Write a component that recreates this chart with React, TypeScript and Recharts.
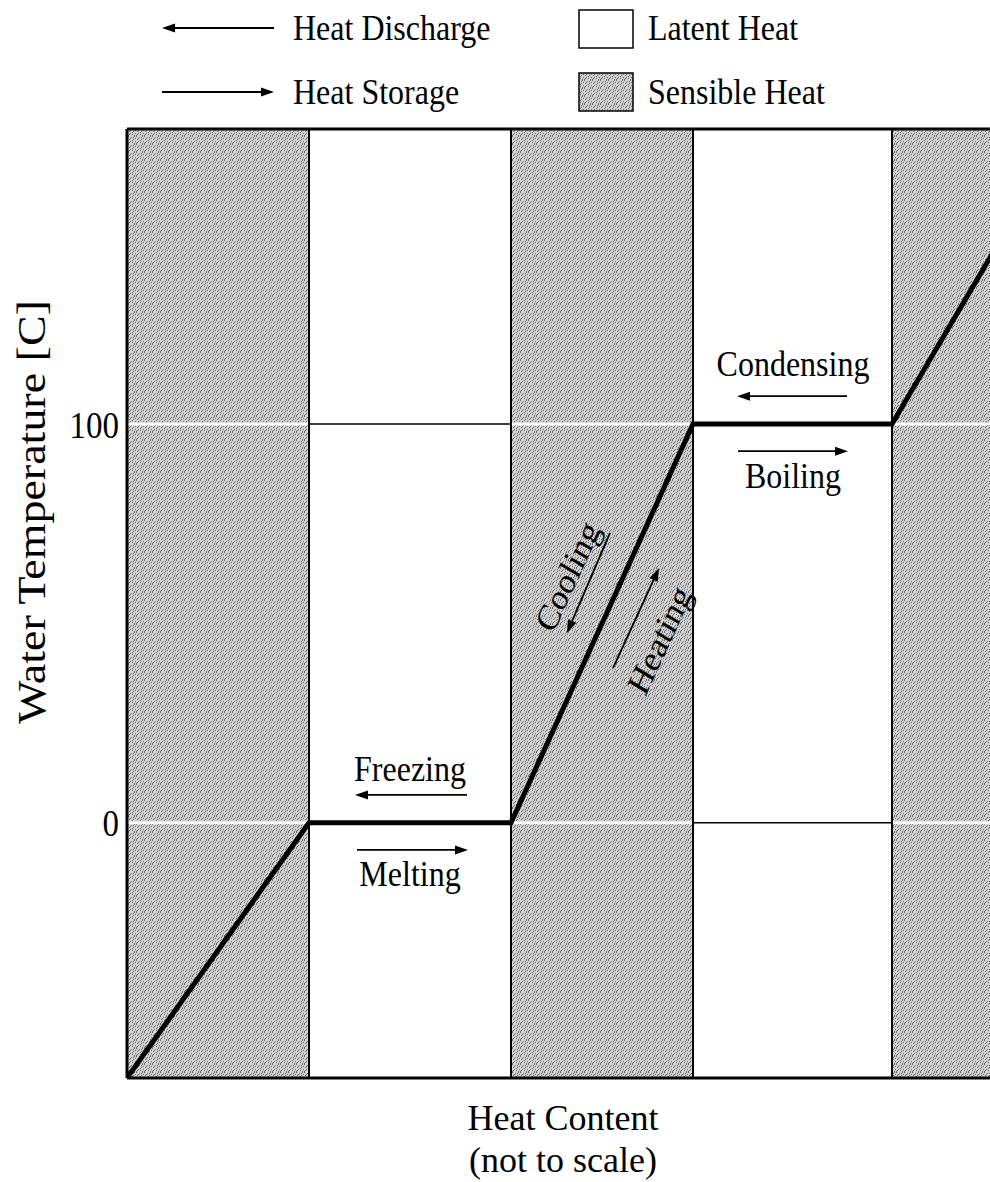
import React from 'react';
import {
  ComposedChart,
  Line,
  XAxis,
  YAxis,
  ReferenceArea,
  ReferenceLine,
  ReferenceDot,
} from 'recharts';

// ---- data ----
const heatContent = [0, 182, 384, 566, 765, 873];
const waterTemp = [-64, 0, 0, 100, 100, 146];
const yTicks = [0, 100];
const yDomain = [-64, 174];
const xDomain = [0, 873];
// sensible heat (shaded) bands along heat content
const sensibleBands = [
  [0, 182],
  [384, 566],
  [765, 873],
];
const phaseBoundaries = [182, 384, 566, 765];
// thin plateau borders inside latent heat bands
const latentEdges = [
  { x1: 182, x2: 384, y: 100 },
  { x1: 566, x2: 765, y: 0 },
];
const processLabels = [
  { text: 'Condensing', x: 666, y: 112 },
  { text: 'Boiling', x: 666, y: 84 },
  { text: 'Freezing', x: 283, y: 10.5 },
  { text: 'Melting', x: 283, y: -15.8 },
];
const slopeLabels = [
  { text: 'Cooling', x: 440, y: 61.9 },
  { text: 'Heating', x: 532, y: 45.9 },
];
const processArrows = [
  { x1: 720, y1: 107, x2: 610, y2: 107 },
  { x1: 611, y1: 93.2, x2: 721, y2: 93.2 },
  { x1: 340, y1: 7, x2: 228, y2: 7 },
  { x1: 230, y1: -6.8, x2: 341, y2: -6.8 },
  { x1: 483, y1: 72.7, x2: 440, y2: 47.6 },
  { x1: 486, y1: 38.8, x2: 532, y2: 63.9 },
];
const legendItems = ['Heat Discharge', 'Heat Storage', 'Latent Heat', 'Sensible Heat'];
const xAxisLabel = ['Heat Content', '(not to scale)'];
const yAxisLabel = 'Water Temperature [C]';

const chartData = heatContent.map((h, i) => ({ heat: h, temp: waterTemp[i] }));

const FONT = '"Liberation Serif", "Times New Roman", serif';
const SY = 1.15;

const dots: Array<[number, number]> = [
  [0, 0], [3, 1], [6, 0], [1, 3], [5, 3], [2, 5], [7, 5], [4, 6], [0, 7], [6, 7],
  [2, 2], [7, 2], [4, 4], [1, 6], [5, 1],
];

const arrowShape = (p: any) => {
  const { x1, y1, x2, y2 } = p;
  const dx = x2 - x1;
  const dy = y2 - y1;
  const len = Math.hypot(dx, dy) || 1;
  const ux = dx / len;
  const uy = dy / len;
  const hl = 13;
  const hw = 4.5;
  const bx = x2 - ux * hl;
  const by = y2 - uy * hl;
  return (
    <g>
      <line x1={x1} y1={y1} x2={bx + ux * 2} y2={by + uy * 2} stroke="#000" strokeWidth={1.8} />
      <polygon
        points={`${x2},${y2} ${bx - uy * hw},${by + ux * hw} ${bx + uy * hw},${by - ux * hw}`}
        fill="#000"
      />
    </g>
  );
};

const textShape = (text: string) => (p: any) => (
  <text
    transform={`translate(${p.cx},${p.cy}) scale(1,${SY})`}
    textAnchor="middle"
    fontFamily={FONT}
    fontSize={32}
    fill="#000"
  >
    {text}
  </text>
);

const slopeTextShape = (text: string) => (p: any) => (
  <text
    transform={`translate(${p.cx},${p.cy}) scale(1,${SY}) rotate(-62.3)`}
    textAnchor="middle"
    dominantBaseline="central"
    fontFamily={FONT}
    fontSize={32}
    fill="#000"
  >
    {text}
  </text>
);

const YTick = (p: any) => (
  <text
    transform={`translate(${p.x},${p.y}) scale(1,${SY})`}
    textAnchor="end"
    dy="0.355em"
    fontFamily={FONT}
    fontSize={33}
    fill="#000"
  >
    {p.payload.value}
  </text>
);

const YLabel = () => (
  <text
    transform={`translate(45,512) scale(1,${SY}) rotate(-90)`}
    textAnchor="middle"
    fontFamily={FONT}
    fontSize={40}
    fill="#000"
  >
    {yAxisLabel}
  </text>
);

const XLabel = () => (
  <g>
    <text x={563} y={1130} textAnchor="middle" fontFamily={FONT} fontSize={36} fill="#000">
      {xAxisLabel[0]}
    </text>
    <text x={563} y={1172} textAnchor="middle" fontFamily={FONT} fontSize={36} fill="#000">
      {xAxisLabel[1]}
    </text>
  </g>
);

const LegendSvg = () => {
  const t = (s: string, x: number, y: number) => (
    <text transform={`translate(${x},${y}) scale(1,${SY})`} fontFamily={FONT} fontSize={32} fill="#000">
      {s}
    </text>
  );
  return (
    <svg width={990} height={126} style={{ position: 'absolute', left: 0, top: 0 }}>
      <defs>
        <pattern id="stipple" width={8} height={8} patternUnits="userSpaceOnUse">
          <rect width={8} height={8} fill="#d4d4d4" />
          {dots.map(([x, y], i) => (
            <rect key={i} x={x} y={y} width={1} height={1} fill="#5e5e5e" />
          ))}
        </pattern>
      </defs>
      {arrowShape({ x1: 274, y1: 28, x2: 162, y2: 28 })}
      {t(legendItems[0], 293, 40)}
      {arrowShape({ x1: 162, y1: 92, x2: 274, y2: 92 })}
      {t(legendItems[1], 293, 104)}
      <rect x={579} y={10} width={54} height={38} fill="#fff" stroke="#000" strokeWidth={1.5} />
      {t(legendItems[2], 648, 40)}
      <rect x={579} y={73} width={54} height={38} fill="url(#stipple)" stroke="#000" strokeWidth={1.5} />
      {t(legendItems[3], 648, 104)}
    </svg>
  );
};

export default function App() {
  return (
    <div
      style={{
        position: 'absolute',
        left: 0,
        top: 0,
        width: 990,
        height: 1182,
        overflow: 'hidden',
        background: '#fff',
      }}
    >
      <LegendSvg />
      <div style={{ position: 'absolute', left: 0, top: 0 }}>
        <ComposedChart
          width={1000}
          height={1182}
          data={chartData}
          margin={{ top: 129, right: 0, bottom: 0, left: 0 }}
        >
          <XAxis
            dataKey="heat"
            type="number"
            domain={xDomain}
            allowDataOverflow
            tick={false}
            tickLine={false}
            axisLine={{ stroke: '#000', strokeWidth: 3 }}
            height={104}
            label={{ content: XLabel }}
          />
          <YAxis
            type="number"
            domain={yDomain}
            allowDataOverflow
            ticks={yTicks}
            tick={YTick}
            tickLine={false}
            axisLine={{ stroke: '#000', strokeWidth: 3 }}
            width={127}
            label={{ content: YLabel }}
          />
          {sensibleBands.map(([a, b], i) => (
            <ReferenceArea
              key={`band${i}`}
              x1={a}
              x2={b}
              y1={yDomain[0]}
              y2={yDomain[1]}
              fill="url(#stipple)"
              fillOpacity={1}
              stroke="none"
            />
          ))}
          {yTicks.map((v) => (
            <ReferenceLine key={`g${v}`} y={v} stroke="#fff" strokeWidth={3} />
          ))}
          {latentEdges.map((e, i) => (
            <ReferenceLine
              key={`le${i}`}
              segment={[
                { x: e.x1, y: e.y },
                { x: e.x2, y: e.y },
              ]}
              stroke="#000"
              strokeWidth={1.5}
            />
          ))}
          {phaseBoundaries.map((x) => (
            <ReferenceLine key={`pb${x}`} x={x} stroke="#000" strokeWidth={2} />
          ))}
          <ReferenceLine y={yDomain[1]} stroke="#000" strokeWidth={3} />
          <Line
            dataKey="temp"
            type="linear"
            stroke="#000"
            strokeWidth={5}
            dot={false}
            activeDot={false}
            isAnimationActive={false}
          />
          {processArrows.map((a, i) => (
            <ReferenceLine
              key={`ar${i}`}
              segment={[
                { x: a.x1, y: a.y1 },
                { x: a.x2, y: a.y2 },
              ]}
              shape={arrowShape}
            />
          ))}
          {processLabels.map((l) => (
            <ReferenceDot key={l.text} x={l.x} y={l.y} r={0} shape={textShape(l.text)} />
          ))}
          {slopeLabels.map((l) => (
            <ReferenceDot key={l.text} x={l.x} y={l.y} r={0} shape={slopeTextShape(l.text)} />
          ))}
        </ComposedChart>
      </div>
    </div>
  );
}
